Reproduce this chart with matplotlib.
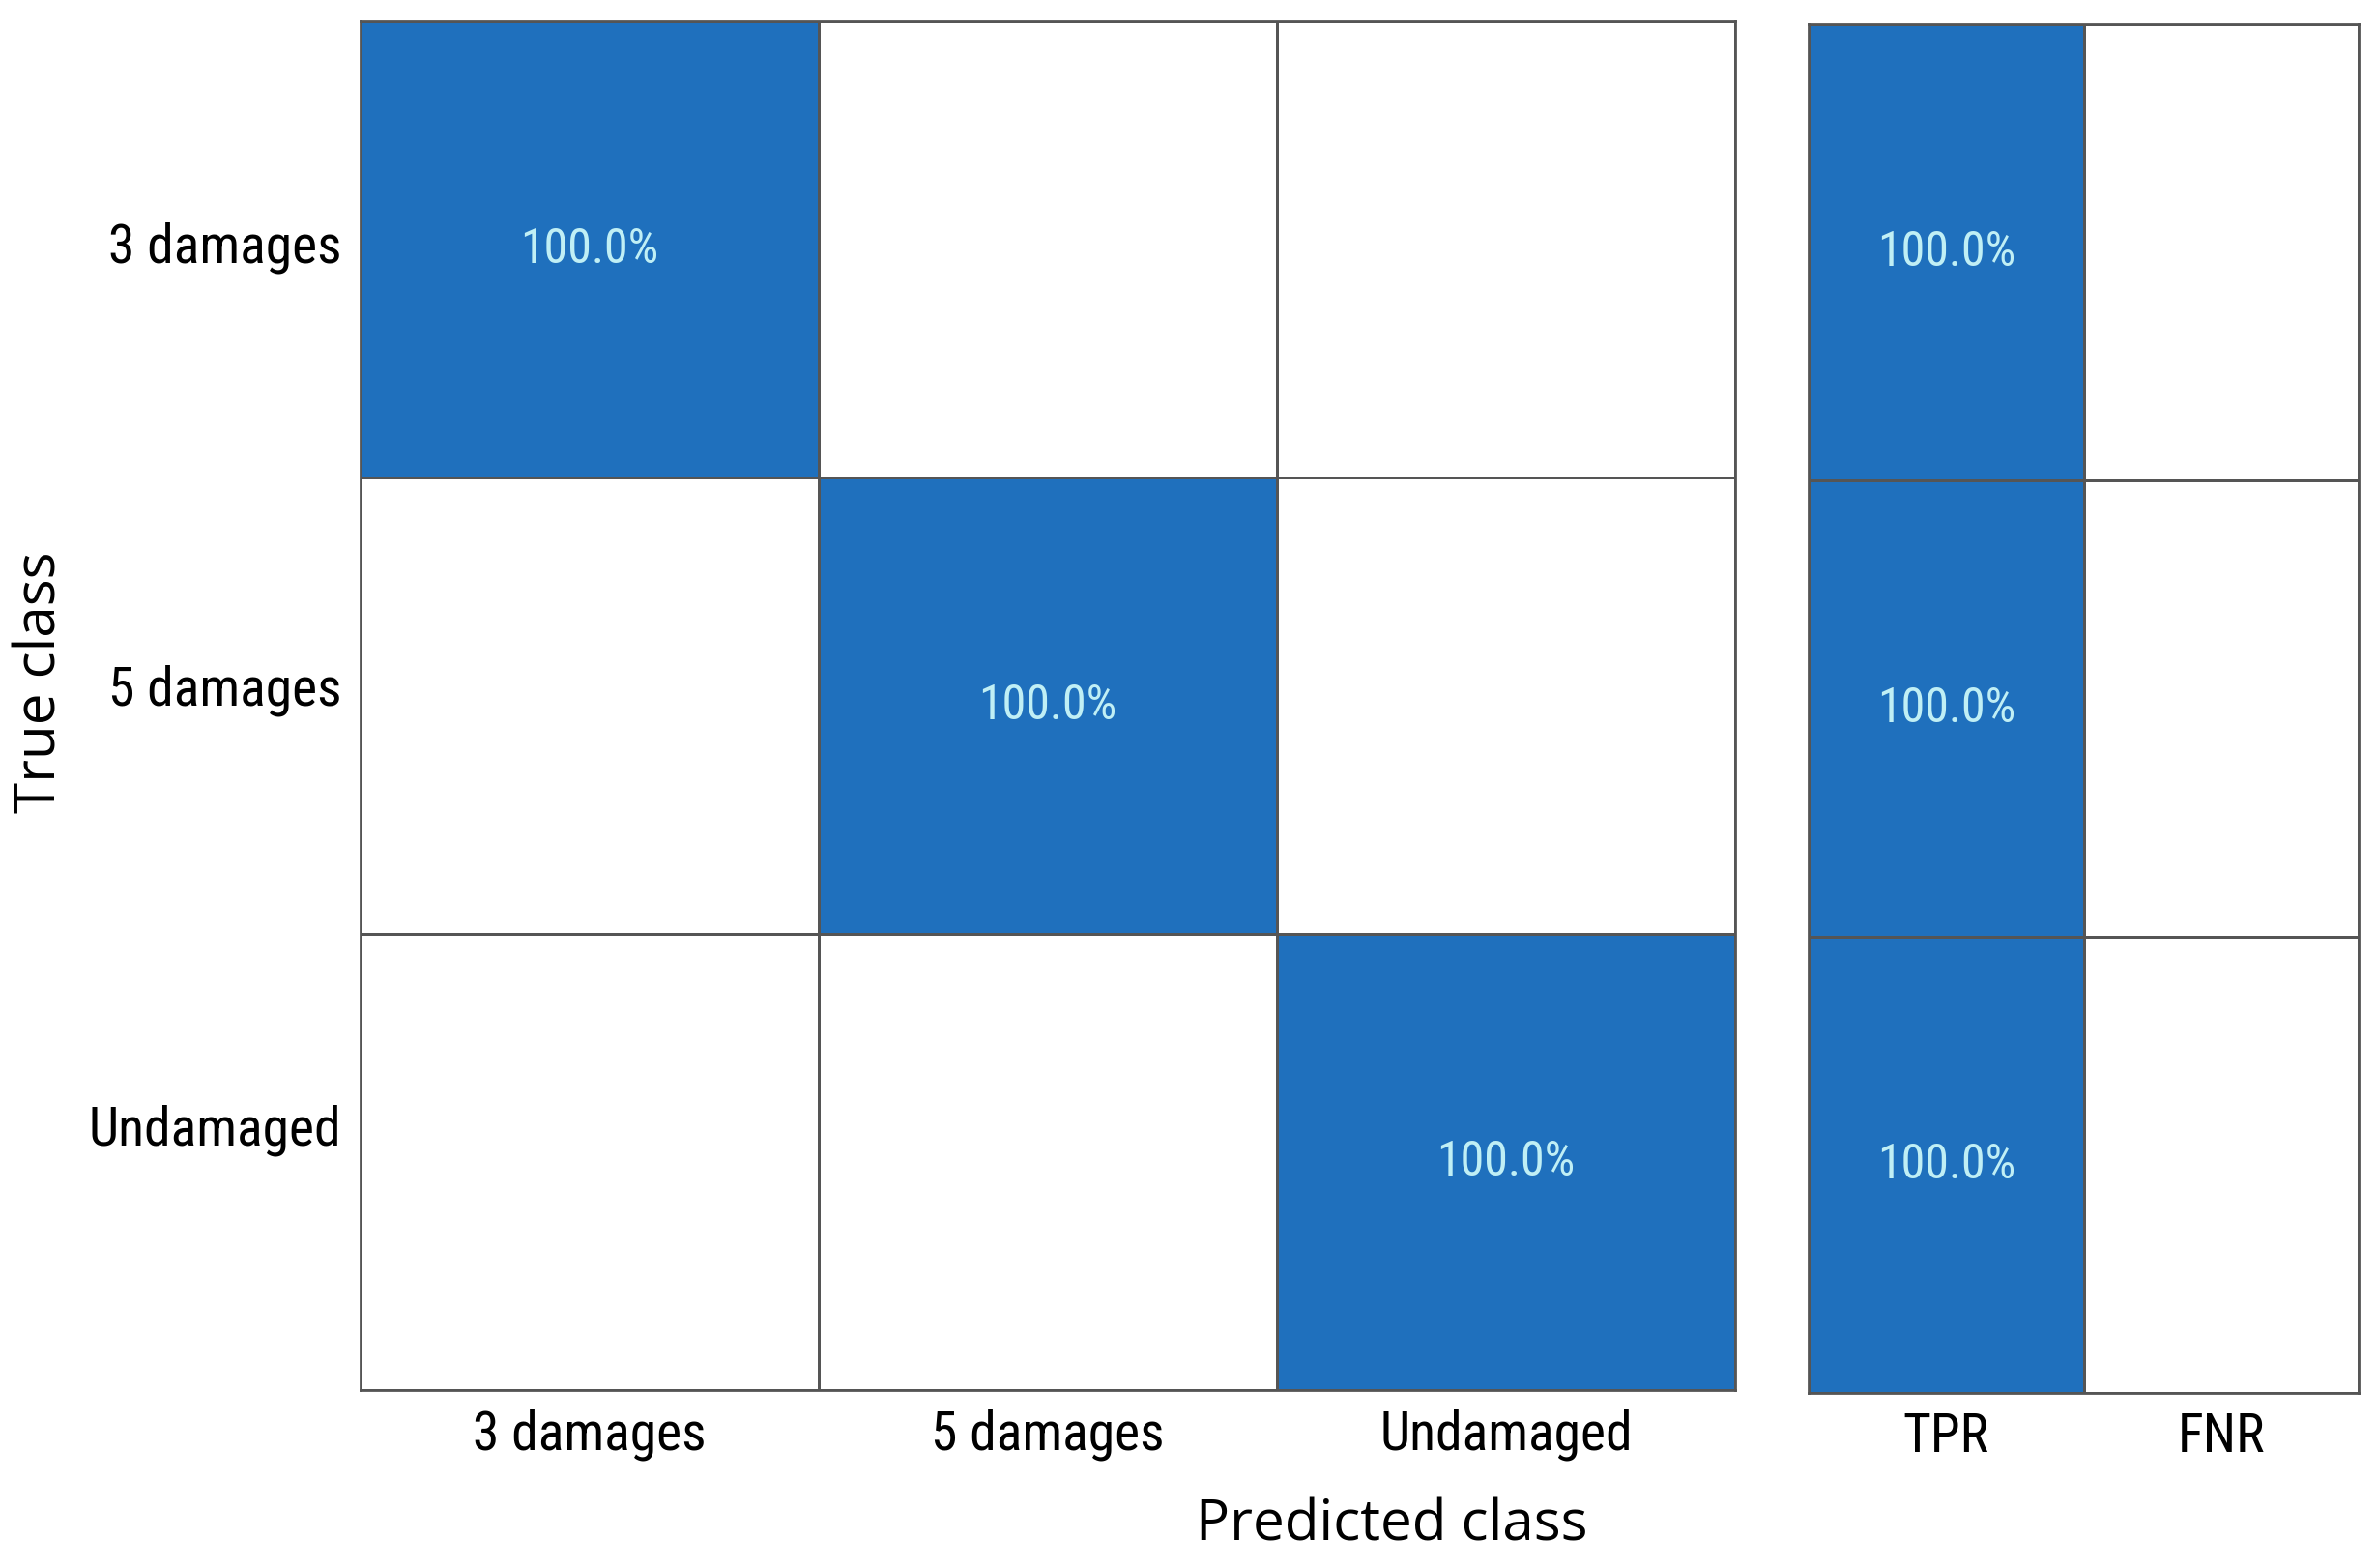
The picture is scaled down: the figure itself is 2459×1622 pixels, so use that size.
import matplotlib
matplotlib.use("Agg")
import matplotlib.pyplot as plt
from matplotlib import font_manager
import numpy as np
from matplotlib.colors import LinearSegmentedColormap

classes = ["3 damages", "5 damages", "Undamaged"]
conf_pct = [[100.0, 0.0, 0.0],
            [0.0, 100.0, 0.0],
            [0.0, 0.0, 100.0]]
rate_labels = ["TPR", "FNR"]
tpr = [100.0, 100.0, 100.0]
fnr = [0.0, 0.0, 0.0]

BLUE = "#1f70bd"
TXT = "#c0eff5"
EDGE = "#555555"
cmap = LinearSegmentedColormap.from_list("wb", ["#ffffff", BLUE])

names = {f.name for f in font_manager.fontManager.ttflist}
narrow = None
for cand in ["Liberation Sans Narrow", "DejaVu Sans Condensed", "Roboto Condensed",
             "Open Sans Condensed", "Noto Sans Condensed"]:
    if cand in names:
        narrow = cand
        break
if narrow:
    tick_font = [narrow, "DejaVu Sans"]
    tick_size, pct_size = 40, 36
else:
    tick_font = ["Liberation Sans", "DejaVu Sans"]
    tick_size, pct_size = 36, 32
lab_font = ["Open Sans", "DejaVu Sans"]

fig = plt.figure(figsize=(24.59, 16.22), dpi=100)
ax = fig.add_axes([0.1517, 0.1134, 0.5783, 0.873])
ax2 = fig.add_axes([0.7609, 0.1116, 0.2314, 0.873])

ytick_pos = [0.483, 1.455, 2.419]

def draw(a, mat, xlabels, ylabels):
    m = np.array(mat)
    nr, nc = m.shape
    a.pcolormesh(np.arange(nc + 1), np.arange(nr + 1), m, cmap=cmap, vmin=0, vmax=100,
                 edgecolors=EDGE, linewidth=2)
    a.set_xlim(0, nc)
    a.set_ylim(nr, 0)
    for i in range(nr):
        for j in range(nc):
            if m[i, j] > 0:
                a.text(j + 0.5, i + 0.5, f"{m[i, j]:.1f}%", ha="center", va="center",
                       color=TXT, fontsize=pct_size, family=tick_font)
    a.set_xticks(np.arange(nc) + 0.5)
    a.set_xticklabels(xlabels, family=tick_font, fontsize=tick_size)
    if ylabels:
        a.set_yticks(ytick_pos)
        a.set_yticklabels(ylabels, family=tick_font, fontsize=tick_size)
    else:
        a.set_yticks([])
    a.tick_params(length=0, pad=14)
    for s in a.spines.values():
        s.set_color(EDGE)
        s.set_linewidth(2)

draw(ax, conf_pct, classes, classes)
rates = np.column_stack([tpr, fnr])
draw(ax2, rates, rate_labels, None)

fig.text(0.5856, 0.027, "Predicted class", ha="center", va="center", fontsize=42, family=lab_font)
fig.text(0.0172, 0.565, "True class", ha="center", va="center", rotation=90, fontsize=42, family=lab_font)

fig.savefig("out.png", dpi=100)
